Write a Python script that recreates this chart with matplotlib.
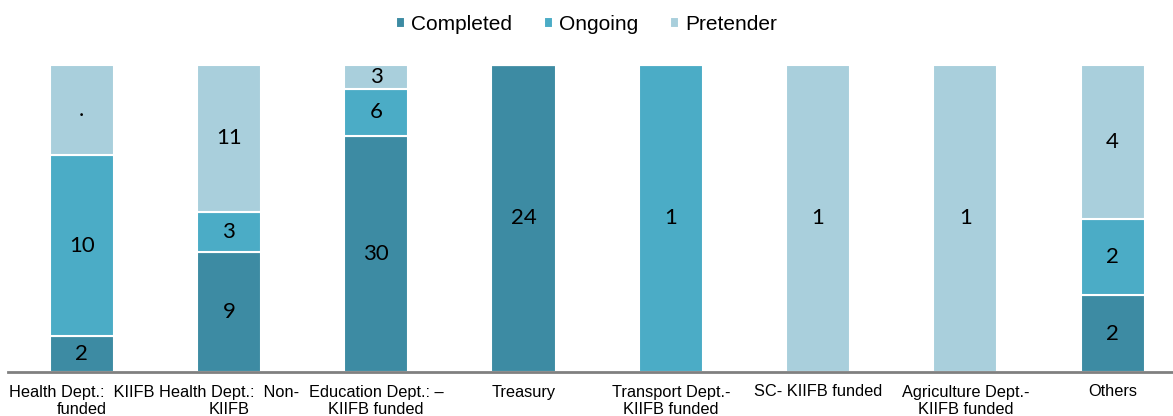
import matplotlib.pyplot as plt
import numpy as np

categories = ["Health Dept.:  KIIFB\nfunded", "Health Dept.:  Non-\nKIIFB",
              "Education Dept.: \u2013\nKIIFB funded", "Treasury",
              "Transport Dept.-\nKIIFB funded", "SC- KIIFB funded",
              "Agriculture Dept.-\nKIIFB funded", "Others"]
completed = [2, 9, 30, 24, 0, 0, 0, 2]
ongoing = [10, 3, 6, 0, 1, 0, 0, 2]
pretender = [5, 11, 3, 0, 0, 1, 1, 4]
# first bar's pretender label shows as "." in the source
pretender_labels = [".", "11", "3", "", "", "1", "1", "4"]

colors = ["#3D8BA3", "#4BACC6", "#A9CFDC"]

comp = np.array(completed, float)
ong = np.array(ongoing, float)
pre = np.array(pretender, float)
tot = comp + ong + pre
shares = [comp / tot, ong / tot, pre / tot]
names = ["Completed", "Ongoing", "Pretender"]
labels = [[str(v) if v else "" for v in completed],
          [str(v) if v else "" for v in ongoing],
          pretender_labels]

fig = plt.figure(figsize=(11.73, 4.16), dpi=100)
ax = fig.add_axes([8 / 1173, 1 - 372 / 416, 1 - 8 / 1173, (372 - 65) / 416])

x = np.arange(len(categories))
bottom = np.zeros(len(categories))
for s, c, n, lab in zip(shares, colors, names, labels):
    ax.bar(x, s, 0.435, bottom=bottom, color=c, edgecolor="white", linewidth=1.5, label=n)
    for xi, b, h, t in zip(x, bottom, s, lab):
        if h > 0 and t:
            ax.text(xi, b + h / 2, t, ha="center", va="center", fontsize=16,
                    family="Lato", color="black")
    bottom += s

ax.set_xlim(-0.5, 7.41)
ax.set_ylim(0, 1)
ax.set_yticks([])
for sp in ["top", "right", "left"]:
    ax.spines[sp].set_visible(False)
ax.spines["bottom"].set_color("#808080")
ax.spines["bottom"].set_linewidth(2)
ax.set_xticks(x)
ax.set_xticklabels(categories, fontsize=11.8, family="Liberation Sans", linespacing=1.25)
ax.tick_params(axis="x", length=0, pad=9)

fig.legend(loc="upper center", bbox_to_anchor=(0.5, 1.01), ncol=3, frameon=False,
           prop={"family": "Liberation Sans", "size": 15}, handlelength=0.45,
           handleheight=0.45, handletextpad=0.3, columnspacing=1.5)

fig.savefig("out.png", dpi=100)
